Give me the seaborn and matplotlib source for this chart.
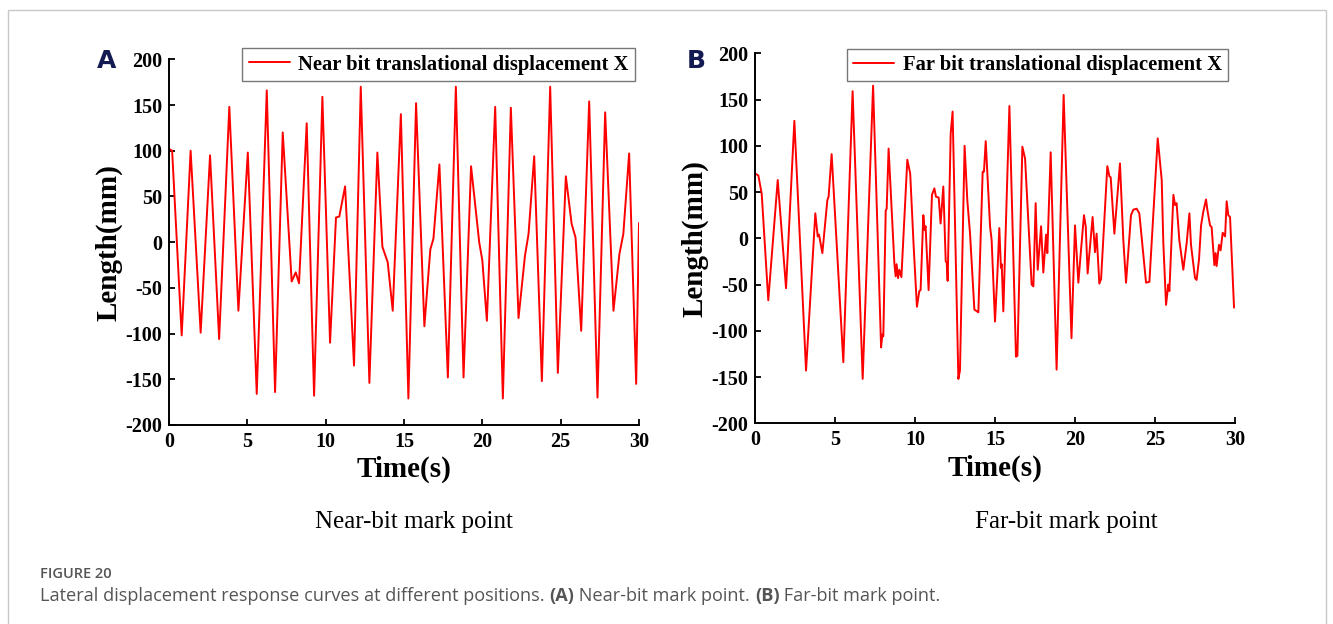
import matplotlib
matplotlib.use("Agg")
import matplotlib.pyplot as plt
import seaborn as sns
import pandas as pd
from matplotlib.patches import Rectangle

# ---- data ----
near_time = [0, 0.2, 0.81, 1.38, 2.02, 2.62, 3.20, 3.85, 4.43, 5.03, 5.60, 6.24, 6.77, 7.26,
             7.83, 8.09, 8.30, 8.79, 9.26, 9.79, 10.28, 10.66, 10.87, 11.24, 11.81, 12.24,
             12.79, 13.30, 13.62, 13.96, 14.28, 14.80, 15.28, 15.77, 16.30, 16.68, 16.88,
             17.26, 17.80, 18.31, 18.80, 19.28, 19.80, 20.0, 20.29, 20.82, 21.31, 21.82,
             22.31, 22.72, 22.95, 23.31, 23.80, 24.33, 24.82, 25.33, 25.70, 25.95, 26.31,
             26.82, 27.35, 27.84, 28.37, 28.75, 29.0, 29.37, 29.82, 30.0]
near_disp = [102, 100, -102, 100, -99, 95, -106, 148, -75, 98, -166, 166, -164, 120,
             -43, -33, -45, 130, -168, 159, -110, 27, 28, 61, -135, 170,
             -154, 98, -5, -22, -75, 140, -171, 152, -92, -8, 4,
             85, -148, 170, -148, 83, 0, -20, -86, 148, -171, 147,
             -83, -15, 9, 94, -152, 170, -143, 72, 20, 5, -97,
             154, -170, 142, -75, -13, 9, 97, -155, 21]

far_time = [0, 0.21, 0.42, 0.83, 1.42, 1.94, 2.46, 3.19, 3.77, 3.92, 4.0, 4.21, 4.52, 4.60,
            4.79, 5.52, 6.10, 6.73, 7.38, 7.88, 7.96, 8.02, 8.17, 8.23, 8.35, 8.44, 8.71,
            8.79, 8.85, 8.94, 9.02, 9.15, 9.52, 9.70, 9.92, 10.12, 10.27, 10.35, 10.52,
            10.60, 10.66, 10.85, 11.06, 11.21, 11.31, 11.48, 11.60, 11.77, 11.92, 11.98,
            12.04, 12.23, 12.35, 12.71, 12.81, 13.10, 13.27, 13.44, 13.71, 13.96, 14.23,
            14.31, 14.42, 14.69, 14.79, 15.00, 15.15, 15.27, 15.37, 15.42, 15.52, 15.90,
            16.31, 16.40, 16.71, 16.88, 17.08, 17.29, 17.40, 17.54, 17.67, 17.88, 18.02,
            18.19, 18.27, 18.48, 18.85, 19.29, 19.78, 20.0, 20.10, 20.21, 20.35, 20.56,
            20.67, 20.79, 21.1, 21.25, 21.35, 21.52, 21.63, 22.02, 22.15, 22.23, 22.46,
            22.81, 23.02, 23.19, 23.5, 23.65, 23.85, 24.02, 24.17, 24.44, 24.65, 25.17,
            25.42, 25.52, 25.69, 25.83, 25.90, 26.04, 26.15, 26.25, 26.35, 26.52, 26.77,
            26.98, 27.15, 27.25, 27.5, 27.60, 27.75, 27.88, 28.02, 28.19, 28.27, 28.44,
            28.54, 28.71, 28.79, 28.85, 29.0, 29.10, 29.23, 29.38, 29.48, 29.58, 29.69,
            29.94]
far_disp = [70, 68, 48, -67, 63, -54, 127, -143, 27, 2, 4, -16, 41, 45,
            91, -134, 159, -152, 165, -118, -104, -106, 30, 32, 97, 66, -27,
            -41, -28, -43, -34, -42, 85, 70, -10, -74, -57, -56, 25,
            9, 13, -56, 47, 54, 45, 44, 16, 56, -25, -26,
            -46, 113, 137, -152, -143, 100, 41, 5, -77, -80, 72,
            72, 105, 13, -2, -90, -38, 11, -32, -28, -79, 143,
            -128, -127, 99, 86, 20, -50, -52, 38, -34, 13, -37,
            4, -16, 93, -142, 155, -108, 14, -16, -48, -18, 25,
            13, -38, 23, -15, 5, -49, -44, 78, 67, 66, 5,
            81, -2, -48, 25, 31, 32, 27, 0, -48, -47, 108,
            63, -5, -72, -50, -57, 2, 47, 36, 38, -2, -34,
            -5, 27, -7, -43, -45, -23, 14, 29, 42, 31, 14,
            12, -29, -16, -30, -7, -13, 6, 2, 40, 25, 23,
            -75]

x_ticks = [0, 5, 10, 15, 20, 25, 30]
y_ticks = [-200, -150, -100, -50, 0, 50, 100, 150, 200]
legend_labels = ["Near bit translational displacement X", "Far bit translational displacement X"]
panel_letters = ["A", "B"]
sub_titles = ["Near-bit mark point", "Far-bit mark point"]

sns.set_style("ticks")
plt.rcParams["font.family"] = ["Liberation Serif", "DejaVu Serif"]
plt.rcParams["axes.unicode_minus"] = False
plt.rcParams["text.color"] = "black"
plt.rcParams["axes.labelcolor"] = "black"
plt.rcParams["xtick.color"] = "black"
plt.rcParams["ytick.color"] = "black"

W, H = 1333, 624
fig = plt.figure(figsize=(W / 100, H / 100), dpi=100)

def px_axes(l, r, t, b):
    return [l / W, (H - b) / H, (r - l) / W, (b - t) / H]

axes_boxes = [px_axes(169, 639, 59.3, 425), px_axes(755, 1235, 53.3, 423.3)]
legend_anchor = [(0.991, 1.030), (0.985, 1.012)]
datasets = [(near_time, near_disp), (far_time, far_disp)]

for i, box in enumerate(axes_boxes):
    ax = fig.add_axes(box)
    df = pd.DataFrame({"t": datasets[i][0], "v": datasets[i][1]})
    sns.lineplot(data=df, x="t", y="v", ax=ax, color="#ff0000", lw=1.4,
                 estimator=None, sort=False, label=legend_labels[i])
    ax.set_xlim(0, 30)
    ax.set_ylim(-200, 200)
    ax.set_xticks(x_ticks)
    ax.set_yticks(y_ticks)
    ax.tick_params(direction="in", length=4, width=1.3, labelsize=14.5, pad=5)
    for lab in ax.get_xticklabels() + ax.get_yticklabels():
        lab.set_fontweight("bold")
    for s in ["top", "right"]:
        ax.spines[s].set_visible(False)
    for s in ["left", "bottom"]:
        ax.spines[s].set_linewidth(1.4)
        ax.spines[s].set_color("black")
    ax.set_xlabel("Time(s)", fontsize=21, fontweight="bold", labelpad=3)
    ax.set_ylabel("Length(mm)", fontsize=21, fontweight="bold", labelpad=2)
    leg = ax.legend(loc="upper right", bbox_to_anchor=legend_anchor[i], borderaxespad=0,
                    frameon=True, fancybox=False, prop={"weight": "bold", "size": 14.9},
                    handlelength=2.0, handletextpad=0.4, borderpad=0.3)
    leg.get_frame().set_edgecolor("#777777")
    leg.get_frame().set_linewidth(1.0)
    leg.get_frame().set_alpha(1)

# panel letters
fig.text(107 / W, 1 - 61 / H, panel_letters[0], fontsize=18, fontweight="bold", color="#141a52",
         family=["DejaVu Sans"], ha="center", va="center")
fig.text(696 / W, 1 - 61 / H, panel_letters[1], fontsize=18, fontweight="bold", color="#141a52",
         family=["DejaVu Sans"], ha="center", va="center")

# sub titles
fig.text(414 / W, 1 - 522 / H, sub_titles[0], fontsize=18, ha="center", va="center")
fig.text(1066 / W, 1 - 522 / H, sub_titles[1], fontsize=18, ha="center", va="center")

# figure caption
fig.text(40 / W, 1 - 574 / H, "FIGURE 20", fontsize=10.5, color="#555555", fontweight="semibold",
         family=["Open Sans", "DejaVu Sans"], ha="left", va="center")
cap_y = 1 - 596 / H
fig.canvas.draw()
r = fig.canvas.get_renderer()
x = 40
parts = [("Lateral displacement response curves at different positions. ", "normal"),
         ("(A)", "bold"), (" Near-bit mark point. ", "normal"), ("(B)", "bold"),
         (" Far-bit mark point.", "normal")]
for txt, wt in parts:
    tt = fig.text(x / W, cap_y, txt, fontsize=13.1, color="#555555", fontweight=wt,
                  family=["Open Sans", "DejaVu Sans"], ha="left", va="center")
    bb = tt.get_window_extent(renderer=r)
    x += bb.width

# outer frame
fig.patches.append(Rectangle((8 / W, -0.1), (1326 - 8) / W, 1.1 - 10 / H,
                             transform=fig.transFigure, fill=False,
                             edgecolor="#c8c8c8", lw=1.0))

fig.savefig("out.png", dpi=100)
